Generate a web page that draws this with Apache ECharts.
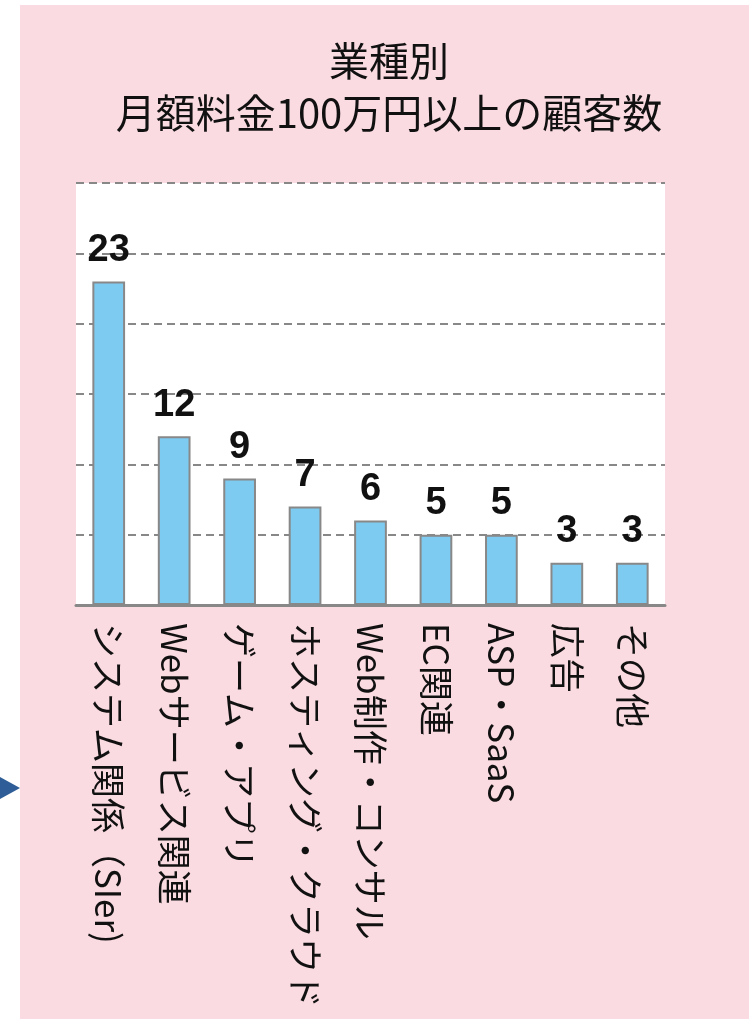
<!DOCTYPE html>
<html>
<head>
<meta charset="utf-8">
<script src="https://cdn.jsdelivr.net/npm/echarts@6/dist/echarts.min.js"></script>
<style>
html,body{margin:0;padding:0;background:#ffffff;}
#chart{width:749px;height:1019px;}
</style>
</head>
<body>
<div id="chart"></div>
<script>
const titleLines = ['業種別', '月額料金100万円以上の顧客数'];
const categories = ['システム関係（SIer)', 'Webサービス関連', 'ゲーム・アプリ', 'ホスティング・クラウド', 'Web制作・コンサル', 'EC関連', 'ASP・SaaS', '広告', 'その他'];
const values = [23, 12, 9, 7, 6, 5, 5, 3, 3];
const yMin = 0, yMax = 30, yStep = 5;

const chart = echarts.init(document.getElementById('chart'), null, {renderer: 'canvas'});
chart.setOption({
  backgroundColor: '#ffffff',
  animation: false,
  graphic: [
    {type: 'rect', z: -100, silent: true, shape: {x: 20, y: 5, width: 729, height: 1014}, style: {fill: '#FADBE1'}},
    {type: 'polygon', z: -100, silent: true, shape: {points: [[0, 777], [20, 788], [0, 799]]}, style: {fill: '#2E5D97'}}
  ],
  title: {
    text: titleLines.join('\n'),
    left: 384,
    top: 30,
    textAlign: 'center',
    textStyle: {fontFamily: 'Noto Sans CJK JP', fontSize: 40, fontWeight: 'normal', color: '#111111', lineHeight: 52}
  },
  grid: {left: 76, right: 84, top: 183, bottom: 414, show: true, backgroundColor: '#ffffff', borderWidth: 0, containLabel: false},
  xAxis: {
    type: 'category',
    data: categories,
    axisLine: {show: true, lineStyle: {color: '#888888', width: 3}},
    axisTick: {show: false},
    axisLabel: {rotate: -90, margin: 18, interval: 0, padding: [0, 0, 10, 0], fontFamily: 'Noto Sans CJK JP', fontSize: 35, color: '#111111'}
  },
  yAxis: {
    type: 'value',
    min: yMin, max: yMax, interval: yStep,
    axisLine: {show: false},
    axisTick: {show: false},
    axisLabel: {show: false},
    splitLine: {show: true, lineStyle: {color: '#888888', width: 2, type: [8, 5]}}
  },
  series: [{
    type: 'bar',
    data: values,
    barWidth: '50%',
    itemStyle: {color: '#7ECBF1', borderColor: '#888888', borderWidth: 2},
    label: {show: true, position: 'top', distance: 12, fontFamily: 'Liberation Sans', fontWeight: 'bold', fontSize: 38, color: '#111111'}
  }]
});
</script>
</body>
</html>
